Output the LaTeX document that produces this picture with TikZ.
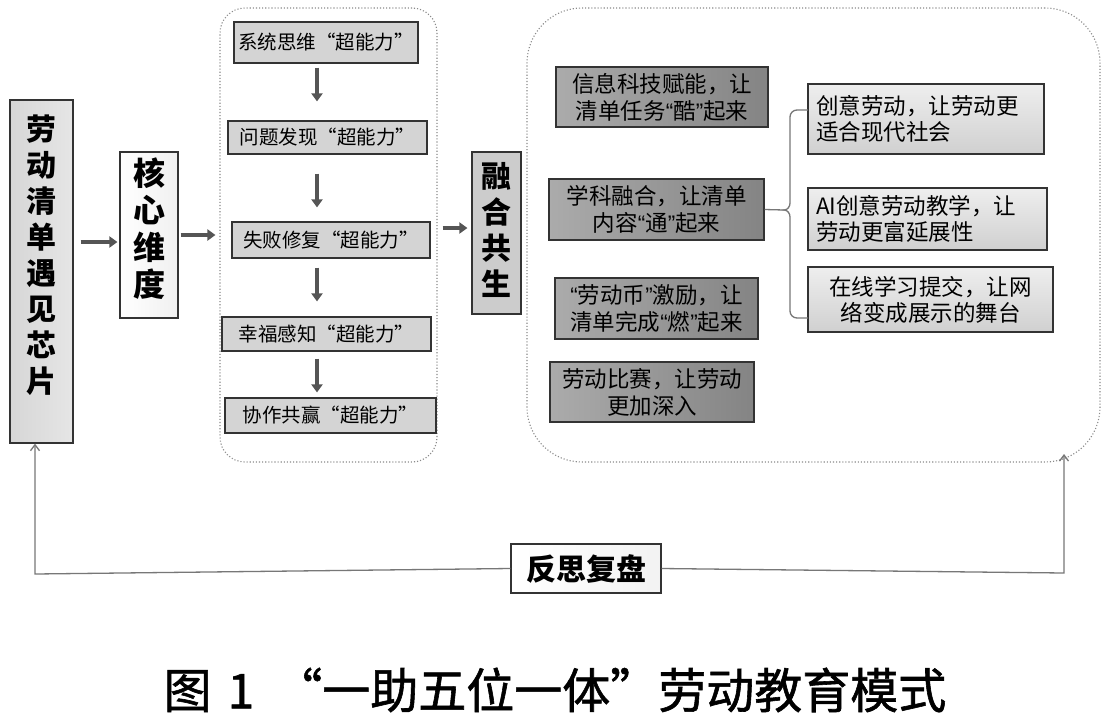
\documentclass[tikz,border=0pt]{standalone}
\usepackage{fontspec}
\setmainfont{Noto Sans CJK SC}
\newfontfamily\latq{Liberation Sans}
\newfontfamily\capfont[FakeBold=1.2]{Noto Sans CJK SC}
\newcommand\qo{{\latq “}}
\newcommand\qc{{\latq ”}}
\usetikzlibrary{arrows.meta,calc}
\definecolor{dkA}{HTML}{ABABAB}
\definecolor{dkB}{HTML}{848484}
\definecolor{ltA}{HTML}{EEEEEE}
\definecolor{ltB}{HTML}{D0D0D0}
\definecolor{midF}{HTML}{D4D4D4}
\definecolor{bord}{HTML}{333333}
\definecolor{arr}{HTML}{555555}
\definecolor{fbk}{HTML}{777777}
\definecolor{dotc}{HTML}{8A8A8A}
\tikzset{
  boxbase/.style={draw=bord, line width=1.2pt, inner sep=0pt, anchor=center},
  vbox/.style={boxbase, align=center},
  midbox/.style={boxbase, fill=midF, font=\fontsize{19.5}{23}\selectfont},
  dkbox/.style={boxbase, left color=dkA, right color=dkB, align=center, font=\fontsize{22.5}{27}\selectfont},
  ltbox/.style={boxbase, top color=ltA, bottom color=ltB, font=\fontsize{22.5}{26}\selectfont},
  container/.style={draw=dotc, dotted, line width=1.1pt, inner sep=0pt},
  bigarrow/.style={draw=arr, line width=4pt, -{Triangle[length=8pt,width=11pt]}},
  fbarrow/.style={draw=fbk, line width=1.3pt, -{Straight Barb[length=6pt,width=9pt]}},
  brc/.style={draw=fbk, line width=1.3pt},
  vlbl/.style={font=\fontsize{30}{36}\selectfont\bfseries, align=center}
}
\begin{document}
\begin{tikzpicture}[x=1pt,y=-1pt]
\useasboundingbox (0,0) rectangle (1112,716);
\fill[white] (0,0) rectangle (1112,716);

% containers
\node[container, rounded corners=25pt, minimum width=217pt, minimum height=454pt] (midC) at (328.5,235) {};
\node[container, rounded corners=55pt, minimum width=573pt, minimum height=454pt] (rgtC) at (813.5,235) {};

% left column
\node[vbox, left color=gray!32, right color=gray!20, minimum width=63pt, minimum height=343pt,
  label={[vlbl, yshift=16pt]center:劳\\动\\清\\单\\遇\\见\\芯\\片}] (left) at (41.5,271.5) {};
\node[vbox, left color=white, middle color=gray!50, right color=gray!12, minimum width=58pt, minimum height=166pt,
  label={[vlbl, font=\fontsize{32}{37}\selectfont\bfseries, yshift=6pt]center:核\\心\\维\\度}] (core) at (149,235) {};
\node[vbox, left color=gray!40, middle color=white, right color=gray!40, minimum width=49pt, minimum height=162pt,
  label={[vlbl, yshift=3pt]center:融\\合\\共\\生}] (fuse) at (496.5,233) {};

\draw[bigarrow, shorten <=7pt, shorten >=2pt] ([yshift=-7pt]left.east |- core.west) -- ([yshift=-7pt]core.west);
\draw[bigarrow, shorten <=2pt, shorten >=4pt] (core.east) -- (midC.west |- core.east);
\draw[bigarrow, shorten <=5pt, shorten >=4pt] ([yshift=5pt]midC.east |- fuse.west) -- ([yshift=5pt]fuse.west);

% middle boxes
\node[midbox, minimum width=184pt, minimum height=41pt] (m1) at (326,42.5) {系统思维“超能力”};
\node[midbox, minimum width=199pt, minimum height=33pt] (m2) at (327.5,137.5) {问题发现“超能力”};
\node[midbox, minimum width=198pt, minimum height=36pt] (m3) at (331,240) {失败修复“超能力”};
\node[midbox, minimum width=209pt, minimum height=34pt] (m4) at (326.5,334) {幸福感知“超能力”};
\node[midbox, minimum width=211pt, minimum height=35pt] (m5) at (330.5,415.5) {协作共赢“超能力”};
\coordinate (ax) at (317,0);
\draw[bigarrow, shorten <=4pt, shorten >=19pt] (m1.south -| ax) -- (m2.north -| ax);
\draw[bigarrow, shorten <=19pt, shorten >=14pt] (m2.south -| ax) -- (m3.north -| ax);
\draw[bigarrow, shorten <=9pt, shorten >=15pt] (m3.south -| ax) -- (m4.north -| ax);
\draw[bigarrow, shorten <=7pt, shorten >=5pt] (m4.south -| ax) -- (m5.north -| ax);

% right container, left column
\node[dkbox, minimum width=212pt, minimum height=60pt] (L1) at (662,97) {信息科技赋能，让\\清单任务\qo 酷\qc 起来};
\node[dkbox, minimum width=215pt, minimum height=61pt] (L2) at (656.5,209.5) {学科融合，让清单\\内容\qo 通\qc 起来};
\node[dkbox, minimum width=203pt, minimum height=61pt] (L3) at (656.5,308.5) {\qo 劳动币\qc 激励，让\\清单完成\qo 燃\qc 起来};
\node[dkbox, minimum width=204pt, minimum height=60pt] (L4) at (652,392) {劳动比赛，让劳动\\更加深入};

% right container, right column
\node[ltbox, minimum width=236pt, minimum height=70pt, text width=220pt, align=left] (R1) at (926,119) {创意劳动，让劳动更\\适合现代社会};
\node[ltbox, minimum width=239pt, minimum height=62pt, text width=223pt, align=left] (R2) at (927.5,219) {AI创意劳动教学，让\\劳动更富延展性};
\node[ltbox, minimum width=245pt, minimum height=65pt, align=center] (R3) at (930.5,299.5) {在线学习提交，让网\\络变成展示的舞台};

% brace
\coordinate (bt) at (808,110);
\coordinate (bb) at (808,318);
\coordinate (bm) at (784,210);
\draw[brc] (bt) -- (797,110) to[out=180,in=90] (790,117) -- (790,203) to[out=-90,in=0] (bm)
  to[out=0,in=90] (790,217) -- (790,311) to[out=-90,in=180] (797,318) -- (bb);
\draw[brc] (L2.east) -- (bm);

% feedback
\node[vbox, left color=white, middle color=gray!50, right color=gray!10, minimum width=150pt, minimum height=49pt,
  font=\fontsize{30}{34}\selectfont\bfseries] (fb) at (586,568.5) {反思复盘};
\coordinate (cl) at (35,574);
\coordinate (cr) at (1064,573);
\coordinate (crt) at (1064,454);
\draw[fbarrow] (fb.west) -- (cl) -- (cl |- left.south);
\draw[fbarrow] (fb.east) -- (cr) -- (crt);

% caption
\node[font=\capfont\fontsize{48}{52}\selectfont] (cap) at (555,690) {图\hspace{16pt}1\hspace{20pt}“一助五位一体”劳动教育模式};
\end{tikzpicture}
\end{document}
